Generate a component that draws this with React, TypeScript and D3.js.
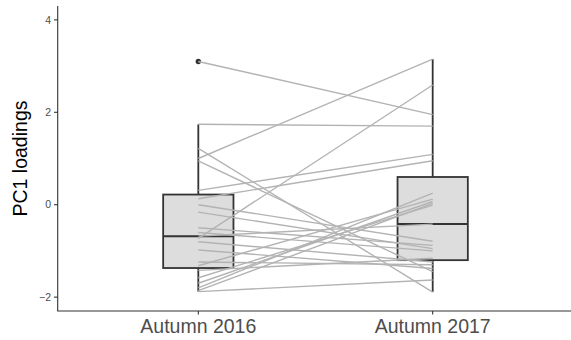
import React from "react";
import * as d3 from "d3";

const seasons = ["Autumn 2016", "Autumn 2017"];
// PC1 loadings per subject (paired by index)
const autumn2016 = [3.10, 1.74, 1.22, 1.00, 0.95, 0.31, 0.13, -0.73, -1.88, -1.86, -1.80, -1.70, -1.58, -1.32, 0.00, -0.16, -0.50, -0.60, -0.68, -0.80, -0.98, -1.24, -1.42];
const autumn2017 = [1.95, 1.70, -1.89, 3.15, -1.45, 1.09, 0.95, 2.59, -1.63, 0.03, 0.25, 0.07, -0.01, 0.12, -0.79, -0.95, -0.88, -1.00, -0.42, -1.24, -1.38, -1.30, -1.16];
const yTicks = [-2, 0, 2, 4];
const yTitle = "PC1 loadings";

const W = 571, H = 340;
const FONT = "'Liberation Sans', Arial, Helvetica, sans-serif";

function stats(v: number[]) {
  const s = [...v].sort((a, b) => a - b);
  const q1 = d3.quantile(s, 0.25)!;
  const med = d3.quantile(s, 0.5)!;
  const q3 = d3.quantile(s, 0.75)!;
  const iqr = q3 - q1;
  const lo = q1 - 1.5 * iqr, hi = q3 + 1.5 * iqr;
  const inside = s.filter((d) => d >= lo && d <= hi);
  return {
    q1, med, q3,
    wlo: d3.min(inside)!, whi: d3.max(inside)!,
    out: s.filter((d) => d < lo || d > hi),
  };
}

export default function App() {
  const x = d3.scaleLinear().domain([0.4, 2.6]).range([57.7, 573.3]);
  const y = d3.scaleLinear().domain([-2.3, 4.3]).range([311, 6]);
  const series = [autumn2016, autumn2017];
  const boxW = x(1.15) - x(0.85);
  const line = d3.line<[number, number]>().x((d) => x(d[0])).y((d) => y(d[1]));

  return (
    <svg width={W} height={H} style={{ position: "absolute", left: 0, top: 0, background: "#fff" }}>
      <rect width={W} height={H} fill="#fff" />
      {series.map((v, i) => {
        const s = stats(v);
        const cx = x(i + 1);
        return (
          <g key={i} stroke="#333333" strokeWidth={1.8}>
            <line x1={cx} x2={cx} y1={y(s.q3)} y2={y(s.whi)} />
            <line x1={cx} x2={cx} y1={y(s.q1)} y2={y(s.wlo)} />
            <rect x={cx - boxW / 2} y={y(s.q3)} width={boxW} height={y(s.q1) - y(s.q3)} fill="#dddddd" />
            <line x1={cx - boxW / 2} x2={cx + boxW / 2} y1={y(s.med)} y2={y(s.med)} strokeWidth={2} />
            {s.out.map((o, j) => (
              <circle key={j} cx={cx} cy={y(o)} r={2.7} fill="#333333" stroke="none" />
            ))}
          </g>
        );
      })}
      <g fill="none" stroke="#b3b3b3" strokeWidth={1.4}>
        {autumn2016.map((v, i) => (
          <path key={i} d={line([[1, v], [2, autumn2017[i]]])!} />
        ))}
      </g>
      {/* y axis */}
      <line x1={57.7} x2={57.7} y1={6} y2={311} stroke="#333" strokeWidth={1.1} />
      {yTicks.map((t) => (
        <g key={t}>
          <line x1={54} x2={57.7} y1={y(t)} y2={y(t)} stroke="#333" strokeWidth={1.1} />
          <text x={51} y={y(t)} dy="0.35em" textAnchor="end" fontSize={10.5} fill="#4d4d4d" fontFamily={FONT}>
            {t < 0 ? "\u2212" + Math.abs(t) : String(t)}
          </text>
        </g>
      ))}
      <text transform={`translate(27,${(6 + 311) / 2}) rotate(-90)`} textAnchor="middle" fontSize={19.5} fill="#000" fontFamily={FONT}>
        {yTitle}
      </text>
      {/* x axis */}
      <line x1={57.2} x2={W} y1={311} y2={311} stroke="#333" strokeWidth={1.1} />
      {seasons.map((s, i) => (
        <g key={s}>
          <line x1={x(i + 1)} x2={x(i + 1)} y1={311} y2={314.5} stroke="#333" strokeWidth={1.1} />
          <text x={x(i + 1)} y={333} textAnchor="middle" fontSize={19.5} fill="#4d4d4d" fontFamily={FONT}>
            {s}
          </text>
        </g>
      ))}
    </svg>
  );
}
